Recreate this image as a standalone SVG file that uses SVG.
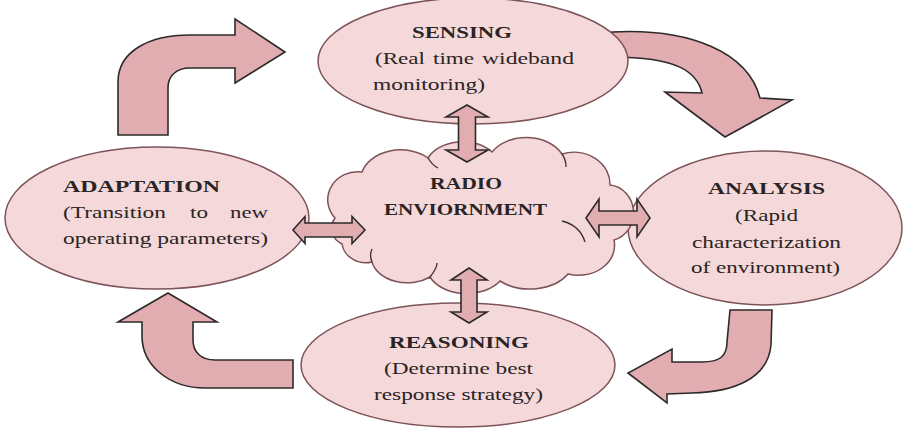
<svg xmlns="http://www.w3.org/2000/svg" width="920" height="428" viewBox="0 0 920 428">
<style>
.node{fill:#f4d8da;stroke:#7d5358;stroke-width:1.5}
.arr{fill:#e2adb1;stroke:#2e2a2a;stroke-width:1.6;stroke-linejoin:miter}
.crease{fill:none;stroke:#3a3030;stroke-width:1.3}
text{font-family:"Liberation Serif","Times New Roman",serif;font-size:17px;fill:#2a2424}
.b{font-weight:bold}
</style>
<rect width="920" height="428" fill="#ffffff"/>
<g id="connectors-back">
<path class="arr" d="M612,32 C690,28 748,52 760,98 L792,100 L725,137 L665,92 L702,93 C697,72 678,57 612,57 Z"/>
</g>
<g id="sensing">
<ellipse class="node" cx="473" cy="61" rx="155" ry="63"/>
<text class="b" x="412" y="38" textLength="100" lengthAdjust="spacingAndGlyphs">SENSING</text>
<text x="375" y="64" textLength="50" lengthAdjust="spacingAndGlyphs">(Real</text>
<text x="433" y="64" textLength="41" lengthAdjust="spacingAndGlyphs">time</text>
<text x="482" y="64" textLength="92" lengthAdjust="spacingAndGlyphs">wideband</text>
<text x="373" y="90" textLength="112" lengthAdjust="spacingAndGlyphs">monitoring)</text>
</g>
<g id="adaptation">
<ellipse class="node" cx="157" cy="218" rx="152" ry="71"/>
<text class="b" x="63" y="192" textLength="157" lengthAdjust="spacingAndGlyphs">ADAPTATION</text>
<text x="63" y="218" textLength="103" lengthAdjust="spacingAndGlyphs">(Transition</text>
<text x="190" y="218" textLength="18" lengthAdjust="spacingAndGlyphs">to</text>
<text x="230" y="218" textLength="38" lengthAdjust="spacingAndGlyphs">new</text>
<text x="63" y="244" textLength="205" lengthAdjust="spacingAndGlyphs">operating parameters)</text>
</g>
<g id="analysis">
<ellipse class="node" cx="765" cy="228" rx="137" ry="77"/>
<text class="b" x="708" y="194" textLength="117" lengthAdjust="spacingAndGlyphs">ANALYSIS</text>
<text x="735" y="221" textLength="63" lengthAdjust="spacingAndGlyphs">(Rapid</text>
<text x="692" y="248" textLength="149" lengthAdjust="spacingAndGlyphs">characterization</text>
<text x="691" y="273" textLength="149" lengthAdjust="spacingAndGlyphs">of environment)</text>
</g>
<g id="reasoning">
<ellipse class="node" cx="458" cy="365" rx="157" ry="62"/>
<text class="b" x="389" y="348" textLength="140" lengthAdjust="spacingAndGlyphs">REASONING</text>
<text x="384" y="374" textLength="149" lengthAdjust="spacingAndGlyphs">(Determine best</text>
<text x="374" y="400" textLength="169" lengthAdjust="spacingAndGlyphs">response strategy)</text>
</g>
<g id="radio-environment">
<path class="node" d="M335,218 A30,28 0 0 1 362,172 A40,30 0 0 1 428,158 A38,28 0 0 1 492,152 A40,30 0 0 1 562,154 A36,32 0 0 1 610,185 A26,28 0 0 1 614,240 A36,30 0 0 1 568,274 A44,30 0 0 1 500,281 A40,28 0 0 1 430,277 A36,26 0 0 1 372,262 A24,22 0 0 1 342,244 A20,18 0 0 1 335,218 Z"/>
<path class="crease" d="M428,158 C431,163 434,166 438,168"/>
<path class="crease" d="M562,154 C565,158 566,162 566,167"/>
<path class="crease" d="M562,221 C574,224 582,232 585,242"/>
<path class="crease" d="M437,263 C437,268 434,272 430,277"/>
<path class="crease" d="M372,262 C370,257 370,253 372,249"/>
<text class="b" x="430" y="189" textLength="72" lengthAdjust="spacingAndGlyphs">RADIO</text>
<text class="b" x="384" y="215" textLength="163" lengthAdjust="spacingAndGlyphs">ENVIORNMENT</text>
</g>
<g id="connectors">
<path class="arr" d="M118,135 L118,82 C118,52 148,35 190,35 L235,35 L235,19 L285,52 L235,83 L235,68 L190,68 C176,68 168,76 168,88 L168,135 Z"/>
<path class="arr" d="M730,310 L772,310 L771,345 C768,378 735,392 692,393 L667,394 L667,403 L628,373 L672,349 L672,362 L702,362 C720,362 727,356 727,342 Z"/>
<path class="arr" d="M168,293 L217,322 L193,322 L193,340 C193,352 201,360 215,360 L293,360 L293,388 L205,388 C170,388 142,366 142,336 L142,322 L118,322 Z"/>
<path class="arr" d="M467,105 L488,117 L475.5,117 L475.5,150 L488,150 L467,162 L446,150 L458.5,150 L458.5,117 L446,117 Z"/>
<path class="arr" d="M469,268 L487,280 L477,280 L477,312 L487,312 L469,323 L451,312 L461,312 L461,280 L451,280 Z"/>
<path class="arr" d="M293,230 L305,216.5 L305,223 L352,223 L352,216.5 L365,230 L352,243.5 L352,237 L305,237 L305,243.5 Z"/>
<path class="arr" d="M586,218 L599,199 L599,211 L637,211 L637,199 L650,218 L637,237 L637,225 L599,225 L599,237 Z"/>
</g>
</svg>
